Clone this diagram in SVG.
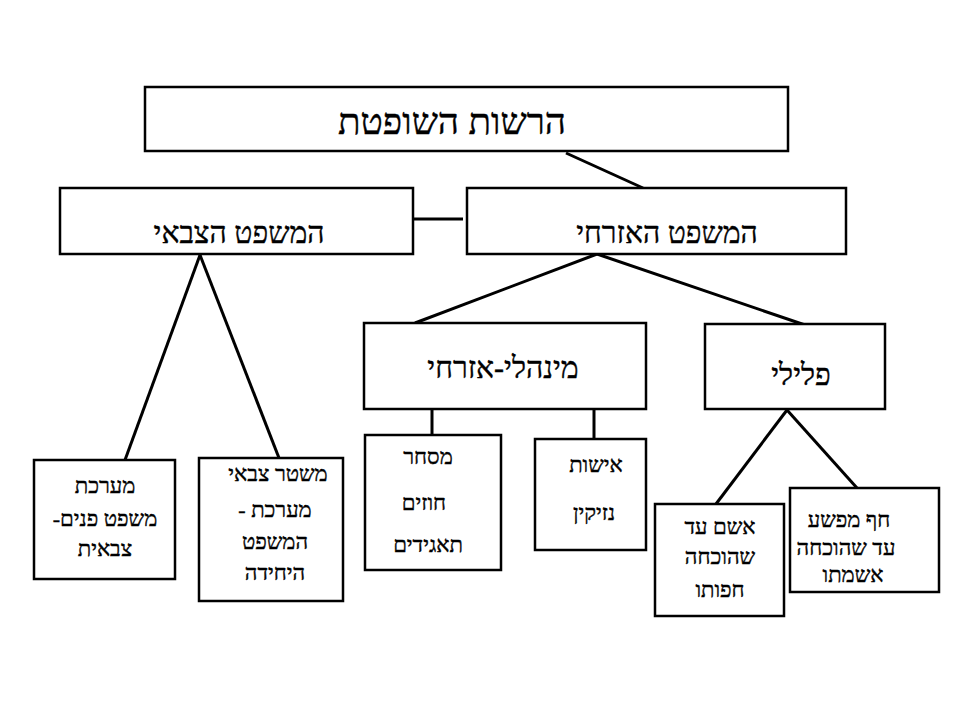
<svg xmlns="http://www.w3.org/2000/svg" width="960" height="720" viewBox="0 0 960 720">
<style>
.box{fill:#fff;stroke:#000;stroke-width:2.5}
.ln{stroke:#000;stroke-width:3;fill:none}
text{font-family:"Liberation Serif","DejaVu Serif",serif;fill:#000;stroke:#000;stroke-width:0.4;text-anchor:middle;direction:rtl}
.ltr{direction:ltr}
.t1{font-size:37px}
.t2{font-size:30px}
.t3{font-size:22px}
</style>
<rect width="960" height="720" fill="#fff"/>
<g id="connectors">
<line class="ln" x1="566" y1="153" x2="643" y2="188"/>
<line class="ln" x1="413" y1="219" x2="463" y2="219"/>
<line class="ln" x1="597" y1="254" x2="415" y2="323"/>
<line class="ln" x1="597" y1="254" x2="808" y2="326"/>
<line class="ln" x1="432" y1="409" x2="432" y2="436"/>
<line class="ln" x1="594" y1="409" x2="594" y2="439"/>
<line class="ln" x1="787" y1="410" x2="716" y2="504"/>
<line class="ln" x1="787" y1="410" x2="857" y2="488"/>
<line class="ln" x1="200" y1="255" x2="125" y2="460"/>
<line class="ln" x1="200" y1="255" x2="279" y2="458"/>
</g>
<g id="n-root">
<rect class="box" x="145" y="87" width="643" height="64"/>
<text class="t1" x="452" y="134">הרשות השופטת</text>
</g>
<g id="n-military">
<rect class="box" x="60" y="188" width="353" height="66"/>
<text class="t2" x="239" y="243">המשפט הצבאי</text>
</g>
<g id="n-civil">
<rect class="box" x="467" y="188" width="379" height="66"/>
<text class="t2" x="667" y="243">המשפט האזרחי</text>
</g>
<g id="n-admin">
<rect class="box" x="364" y="323" width="282" height="86"/>
<text class="t2" x="503" y="378">מינהלי-אזרחי</text>
</g>
<g id="n-criminal">
<rect class="box" x="705" y="324" width="180" height="85"/>
<text class="t2" x="801" y="385">פלילי</text>
</g>
<g id="n-internal">
<rect class="box" x="34" y="460" width="141" height="119"/>
<text class="t3" x="105" y="493">מערכת</text>
<text class="t3" x="105" y="526">משפט פנים-</text>
<text class="t3" x="105" y="556">צבאית</text>
</g>
<g id="n-regime">
<rect class="box" x="199" y="458" width="144" height="143"/>
<text class="t3" x="278" y="481">משטר צבאי</text>
<text class="t3 ltr" x="275" y="517">- מערכת</text>
<text class="t3" x="275" y="549">המשפט</text>
<text class="t3" x="275" y="580">היחידה</text>
</g>
<g id="n-commerce">
<rect class="box" x="365" y="435" width="136" height="135"/>
<text class="t3" x="428" y="464">מסחר</text>
<text class="t3" x="424" y="510">חוזים</text>
<text class="t3" x="428" y="552">תאגידים</text>
</g>
<g id="n-family">
<rect class="box" x="535" y="439" width="111" height="111"/>
<text class="t3" x="596" y="472">אישות</text>
<text class="t3" x="594" y="520">נזיקין</text>
</g>
<g id="n-guilty">
<rect class="box" x="655" y="504" width="129" height="112"/>
<text class="t3" x="720" y="534">אשם עד</text>
<text class="t3" x="720" y="564">שהוכחה</text>
<text class="t3" x="720" y="597">חפותו</text>
</g>
<g id="n-innocent">
<rect class="box" x="790" y="488" width="149" height="104"/>
<text class="t3" x="849" y="527">חף מפשע</text>
<text class="t3" x="846" y="555">עד שהוכחה</text>
<text class="t3" x="853" y="582">אשמתו</text>
</g>
</svg>
